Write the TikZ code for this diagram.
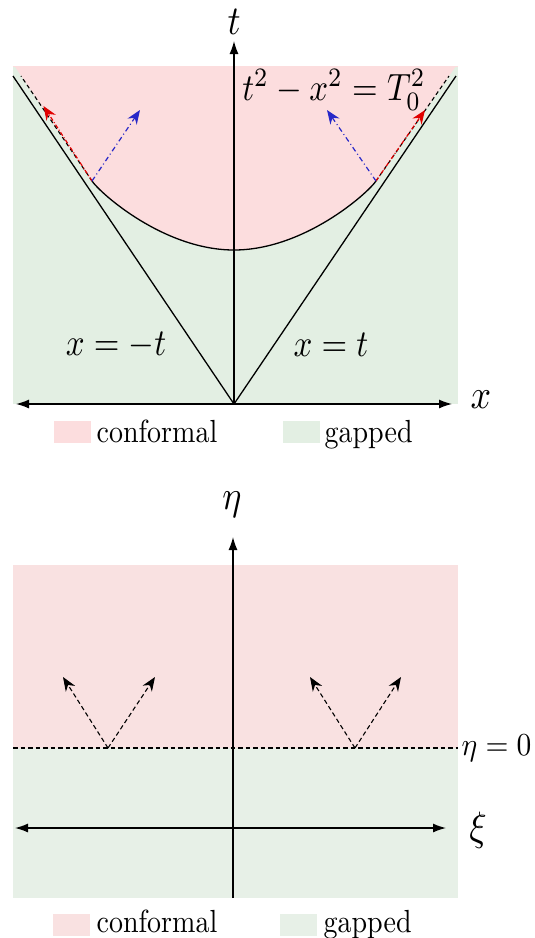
\documentclass[tikz,border=0pt]{standalone}
\usepackage{graphicx}
\usetikzlibrary{arrows.meta}
\definecolor{pinkA}{RGB}{252,221,222}
\definecolor{greenA}{RGB}{227,239,227}
\definecolor{pinkB}{RGB}{249,225,225}
\definecolor{greenB}{RGB}{231,240,231}
\definecolor{arrred}{RGB}{225,0,0}
\definecolor{arrblue}{RGB}{40,40,200}
\newcommand{\axs}[1]{\scalebox{3.6}[4.1]{#1}}
\newcommand{\eqs}[1]{\scalebox{3.3}[3.8]{#1}}
\newcommand{\lgs}[1]{\scalebox{2.8}[3.2]{#1}}
\begin{document}
\begin{tikzpicture}[x=1pt,y=-1pt,line width=1.3pt,
  axisboth/.style={{Latex[length=13pt,width=9pt]}-{Latex[length=13pt,width=9pt]}},
  axisone/.style={-{Latex[length=13pt,width=9pt]}},
  dline/.style={line width=1.1pt,dash pattern=on 4.5pt off 3pt},
  vecarrow/.style={dline,-{Stealth[length=14pt,width=11pt]}},
  redarrow/.style={line width=1.2pt,arrred,dash pattern=on 4pt off 2pt on 1pt off 2pt,-{Stealth[length=14pt,width=11pt]}},
  bluearrow/.style={line width=1.2pt,arrblue,dash pattern=on 5pt off 3pt on 1pt off 3pt,-{Stealth[length=14pt,width=11pt]}},
  lbl/.style={inner sep=0pt},
  legbox/.style={inner sep=0pt,minimum width=37pt,minimum height=22pt}]
\useasboundingbox (0,0) rectangle (535,938);

% ---------- top panel ----------
\fill[greenA] (13,66) rectangle (458,404);
\fill[pinkA] (13,66) -- (14.5,66) -- (92,181) .. controls (100.4,193.4) and (164,250) .. (234,250)
   .. controls (304,250) and (367.6,193.4) .. (376,181) -- (456,66) -- (458,66) -- cycle;
\fill[pinkA] (13,66) rectangle (458,67);

\coordinate (O) at (234,404);
\coordinate (V) at (234,250);
\coordinate (JL) at (92,181);
\coordinate (JR) at (376,181);
\coordinate (SL) at (13,76);
\coordinate (SR) at (456,76);
\coordinate (DL) at (21,76);
\coordinate (DR) at (449,76);
\coordinate (XL) at (16,404);
\coordinate (XR) at (452,404);
\coordinate (TT) at (234,41);
\coordinate (RL) at (43.5,106);
\coordinate (BL) at (140,110);
\coordinate (RR) at (425,110);
\coordinate (BR) at (327,110);

\draw (O) -- (SL);
\draw (O) -- (SR);
\draw[dline,dash pattern=on 4pt off 3pt] (JL) -- (DL);
\draw[dline,dash pattern=on 4pt off 3pt] (JR) -- (DR);
\draw (JL) .. controls (100.4,193.4) and (164,250) .. (V)
      .. controls (304,250) and (367.6,193.4) .. (JR);
\draw[redarrow] (JL) -- (RL);
\draw[bluearrow] (JL) -- (BL);
\draw[redarrow] (JR) -- (RR);
\draw[bluearrow] (JR) -- (BR);
\draw[axisboth] (XL) -- (XR);
\draw[axisone] (O) -- (TT);

\node[lbl] (tlab) at (234,22) {\axs{$t$}};
\node[lbl] (xlab) at (481,400) {\axs{$x$}};
\node[lbl] (eqmt) at (116,345) {\eqs{$x=-t$}};
\node[lbl] (eqpt) at (331,345) {\eqs{$x=t$}};
\node[lbl] (hyp) at (334,90) {\eqs{$t^2-x^2=T_0^2$}};

\node[legbox,fill=pinkA] (lgpA) at (72.5,432) {};
\node[lbl,anchor=base west] (lgtA) at (96,442) {\lgs{conformal}};
\node[legbox,fill=greenA] (lggA) at (301.5,432) {};
\node[lbl,anchor=base west] (lgtB) at (324,442) {\lgs{gapped}};

% ---------- bottom panel ----------
\fill[pinkB] (13,565) rectangle (458,748);
\fill[greenB] (13,748) rectangle (458,898);

\coordinate (EB) at (233,898);
\coordinate (ET) at (233,537);
\coordinate (ZL) at (15,828);
\coordinate (ZR) at (446,828);
\coordinate (HL) at (13,748);
\coordinate (HR) at (458,748);
\coordinate (VA) at (108,748);
\coordinate (VB) at (355,748);
\coordinate (A1) at (63,677);
\coordinate (A2) at (155,677);
\coordinate (A3) at (310,677);
\coordinate (A4) at (401,677);

\draw[dline] (HL) -- (HR);
\draw[axisone] (EB) -- (ET);
\draw[axisboth] (ZL) -- (ZR);
\draw[vecarrow] (VA) -- (A1);
\draw[vecarrow] (VA) -- (A2);
\draw[vecarrow] (VB) -- (A3);
\draw[vecarrow] (VB) -- (A4);

\node[lbl] (etalab) at (232,505) {\axs{$\eta$}};
\node[lbl] (xilab) at (478,830) {\axs{$\xi$}};
\node[lbl,anchor=west] (eta0) at (461,748) {\scalebox{2.95}[3.2]{$\eta=0$}};

\node[legbox,fill=pinkB] (lgpB) at (71.5,924.5) {};
\node[lbl,anchor=base west] (lgtC) at (96,932.5) {\lgs{conformal}};
\node[legbox,fill=greenB] (lggB) at (298.5,924.5) {};
\node[lbl,anchor=base west] (lgtD) at (323,932.5) {\lgs{gapped}};
\end{tikzpicture}
\end{document}
